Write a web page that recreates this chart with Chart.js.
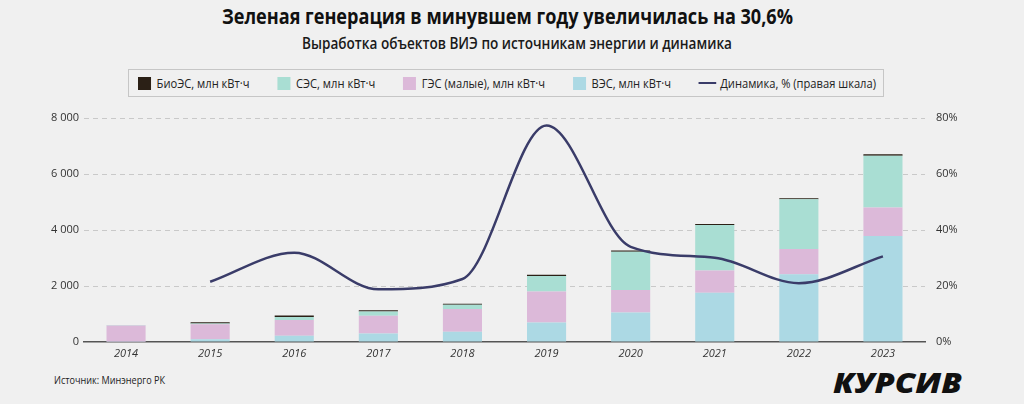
<!DOCTYPE html>
<html>
<head>
<meta charset="utf-8">
<script src="https://cdn.jsdelivr.net/npm/chart.js@4.4.0/dist/chart.umd.min.js"></script>
<style>
    body { margin: 0; width: 1024px; height: 404px; overflow: hidden; position: relative;
           background: #f0f0f0; font-family: "Open Sans", sans-serif; color: #222; }
    .t { position: absolute; white-space: nowrap; line-height: 1; transform-origin: 0 50%; }
    #title { left: 222px; top: 4px; font-size: 22px; font-weight: 700; color: #111; }
    #subtitle { left: 302px; top: 35px; font-size: 16px; font-weight: 600; color: #1a1a1a; }
    #legendBox { position: absolute; left: 128px; top: 69px; width: 756px; height: 28px;
                 border: 1px solid #c6c6c6; box-sizing: border-box; }
    #legend { position: absolute; left: 138px; top: 76px; height: 14px; display: flex;
              align-items: center; white-space: nowrap; transform-origin: 0 50%; font-size: 12px; }
    .item { display: flex; align-items: center; margin-right: 30px; }
    .item:last-child { margin-right: 0; }
    .sw { width: 14px; height: 13px; margin-right: 6px; }
    .ln { width: 19px; height: 2px; margin-right: 4px; }
    #source { left: 54px; top: 374px; font-size: 11px; color: #222; }
    #logo { left: 833px; top: 368px; font-size: 28px; font-weight: 800; font-style: italic; color: #111; }
    canvas { position: absolute; left: 0; top: 0; }
</style>
</head>
<body>
<div class="t" id="title" data-w="571">Зеленая генерация в минувшем году увеличилась на 30,6%</div>
<div class="t" id="subtitle" data-w="430">Выработка объектов ВИЭ по источникам энергии и динамика</div>
<div id="legendBox"></div>
<div id="legend" data-w="738"></div>
<div class="t" id="source" data-w="111">Источник: Минэнерго РК</div>
<div class="t" id="logo" data-w="129">КУРСИВ</div>
<canvas id="chart" width="1024" height="404"></canvas>
<script>
const years = ['2014', '2015', '2016', '2017', '2018', '2019', '2020', '2021', '2022', '2023'];

// млн кВт·ч
const wind  = [10, 100, 225, 300, 370, 700, 1050, 1760, 2420, 3790];
const hydro = [580, 530, 560, 640, 810, 1100, 810, 790, 905, 1010];
const solar = [15, 30, 110, 150, 150, 560, 1365, 1630, 1770, 1855];
const bio   = [0, 45, 50, 45, 40, 40, 40, 35, 40, 50];

// динамика, %
const growth = [null, 21.5, 31.9, 18.8, 22.5, 77.3, 34, 30.1, 21, 30.6];

const leftTicks = [0, 2000, 4000, 6000, 8000];
const rightTicks = [0, 20, 40, 60, 80];

const colors = {
    bio: '#2b2016',
    solar: '#a9ded3',
    hydro: '#dcb9d9',
    wind: '#acd9e4',
    line: '#3a3c69',
};

const legendItems = [
    { label: 'БиоЭС, млн кВт·ч', color: colors.bio },
    { label: 'СЭС, млн кВт·ч', color: colors.solar },
    { label: 'ГЭС (малые), млн кВт·ч', color: colors.hydro },
    { label: 'ВЭС, млн кВт·ч', color: colors.wind },
    { label: 'Динамика, % (правая шкала)', color: colors.line, line: true },
];

const legend = document.getElementById('legend');
for (const it of legendItems) {
    const el = document.createElement('div');
    el.className = 'item';
    el.innerHTML = `<span class="${it.line ? 'ln' : 'sw'}" style="background:${it.color}"></span><span>${it.label}</span>`;
    legend.appendChild(el);
}

// squeeze texts to the width they take in the picture
for (const el of document.querySelectorAll('[data-w]')) {
    const w = el.getBoundingClientRect().width;
    el.style.transform = `scaleX(${Number(el.dataset.w) / w})`;
}

function fmtThousands(v) {
    return String(v).replace(/\B(?=(\d{3})+(?!\d))/g, ' ');
}

const tickFont = { family: '"Open Sans", sans-serif', size: 11 };

function barSet(label, data, color) {
    return {
        type: 'bar',
        label: label,
        data: data,
        backgroundColor: color,
        borderWidth: 0,
        stack: 'res',
        yAxisID: 'y',
        order: 1,
        categoryPercentage: 1,
        barPercentage: 0.465,
    };
}

const ctx = document.getElementById('chart').getContext('2d');
const chart = new Chart(ctx, {
    data: {
        labels: years,
        datasets: [
            {
                type: 'line',
                label: 'Динамика, % (правая шкала)',
                data: growth,
                yAxisID: 'y1',
                borderColor: colors.line,
                borderWidth: 2.5,
                pointRadius: 0,
                cubicInterpolationMode: 'monotone',
                order: 0,
            },
            barSet('ВЭС, млн кВт·ч', wind, colors.wind),
            barSet('ГЭС (малые), млн кВт·ч', hydro, colors.hydro),
            barSet('СЭС, млн кВт·ч', solar, colors.solar),
            barSet('БиоЭС, млн кВт·ч', bio, colors.bio),
        ],
    },
    options: {
        responsive: false,
        animation: false,
        devicePixelRatio: 1,
        layout: {
            padding: { top: 118, left: 0, right: 0, bottom: 0 },
        },
        plugins: {
            legend: { display: false },
            tooltip: { enabled: false },
        },
        scales: {
            x: {
                stacked: true,
                grid: { display: false, drawTicks: false },
                border: { display: true, color: '#555', width: 1.5 },
                ticks: {
                    padding: 5,
                    color: '#333',
                    font: { ...tickFont, style: 'italic' },
                },
                afterFit: (s) => { s.height = 62; },
            },
            y: {
                stacked: true,
                position: 'left',
                min: 0,
                max: 8000,
                afterBuildTicks: (s) => { s.ticks = leftTicks.map(v => ({ value: v })); },
                grid: {
                    drawTicks: false,
                    color: (c) => c.tick && c.tick.value === 0 ? 'rgba(0,0,0,0)' : '#c9c9c9',
                    lineWidth: 1,
                },
                border: { display: false, dash: [5, 4] },
                ticks: {
                    padding: 5,
                    color: '#333',
                    font: tickFont,
                    callback: (v) => fmtThousands(v),
                },
                afterFit: (s) => { s.width = 84; },
            },
            y1: {
                position: 'right',
                min: 0,
                max: 80,
                afterBuildTicks: (s) => { s.ticks = rightTicks.map(v => ({ value: v })); },
                grid: { display: false, drawTicks: false },
                border: { display: false },
                ticks: {
                    padding: 11,
                    color: '#333',
                    font: tickFont,
                    callback: (v) => v + '%',
                },
                afterFit: (s) => { s.width = 99; },
            },
        },
    },
});
</script>
</body>
</html>
